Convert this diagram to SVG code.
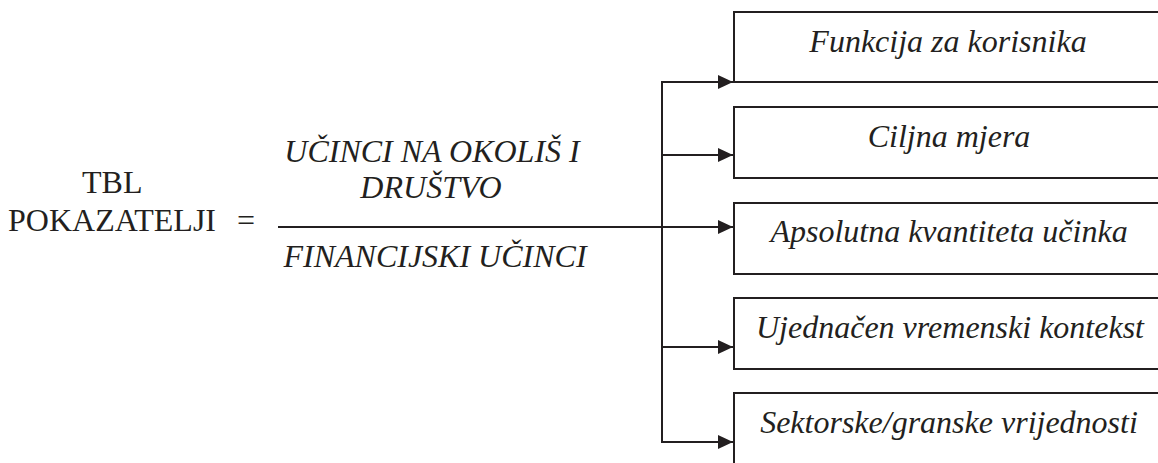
<svg xmlns="http://www.w3.org/2000/svg" width="1158" height="463" viewBox="0 0 1158 463">
  <style>
    .box { fill: #ffffff; stroke: #231f20; stroke-width: 2; }
    .lbl { font-family: "Liberation Serif", "DejaVu Serif", serif; font-style: italic; font-size: 32px; fill: #231f20; text-anchor: middle; }
    .plain { font-family: "Liberation Serif", "DejaVu Serif", serif; font-size: 32px; fill: #231f20; }
    .it { font-family: "Liberation Serif", "DejaVu Serif", serif; font-style: italic; font-size: 32px; fill: #231f20; text-anchor: middle; }
    .conn { fill: none; stroke: #231f20; stroke-width: 2; }
  </style>
  <defs>
    <marker id="arrow" markerUnits="userSpaceOnUse" markerWidth="16" markerHeight="16" refX="15" refY="7" orient="auto">
      <path d="M0,0 L15,7 L0,14 z" fill="#231f20"/>
    </marker>
  </defs>
  <rect width="1158" height="463" fill="#ffffff"/>

  <g id="formula">
    <text class="plain" x="82" y="193">TBL</text>
    <text class="plain" x="8" y="231">POKAZATELJI</text>
    <text class="plain" x="237" y="231">=</text>
    <text class="it" x="432" y="162">UČINCI NA OKOLIŠ I</text>
    <text class="it" x="431" y="198">DRUŠTVO</text>
    <text class="it" x="435" y="267">FINANCIJSKI UČINCI</text>
  </g>

  <g id="node-funkcija">
    <rect class="box" x="734" y="12" width="500" height="70"/>
    <text class="lbl" x="948" y="52">Funkcija za korisnika</text>
  </g>
  <g id="node-ciljna">
    <rect class="box" x="734" y="107" width="500" height="71"/>
    <text class="lbl" x="949" y="147">Ciljna mjera</text>
  </g>
  <g id="node-apsolutna">
    <rect class="box" x="734" y="203" width="500" height="71"/>
    <text class="lbl" x="949" y="242">Apsolutna kvantiteta učinka</text>
  </g>
  <g id="node-ujednacen">
    <rect class="box" x="734" y="298" width="500" height="71"/>
    <text class="lbl" x="950" y="338">Ujednačen vremenski kontekst</text>
  </g>
  <g id="node-sektorske">
    <rect class="box" x="734" y="393" width="500" height="100"/>
    <text class="lbl" x="949" y="433">Sektorske/granske vrijednosti</text>
  </g>

  <g id="connectors">
    <path class="conn" d="M662,82 L662,442"/>
    <path class="conn" d="M278,227 L733,227" marker-end="url(#arrow)"/>
    <path class="conn" d="M661,82 L733,82" marker-end="url(#arrow)"/>
    <path class="conn" d="M661,155 L733,155" marker-end="url(#arrow)"/>
    <path class="conn" d="M661,347 L733,347" marker-end="url(#arrow)"/>
    <path class="conn" d="M661,442 L733,442" marker-end="url(#arrow)"/>
  </g>
</svg>
